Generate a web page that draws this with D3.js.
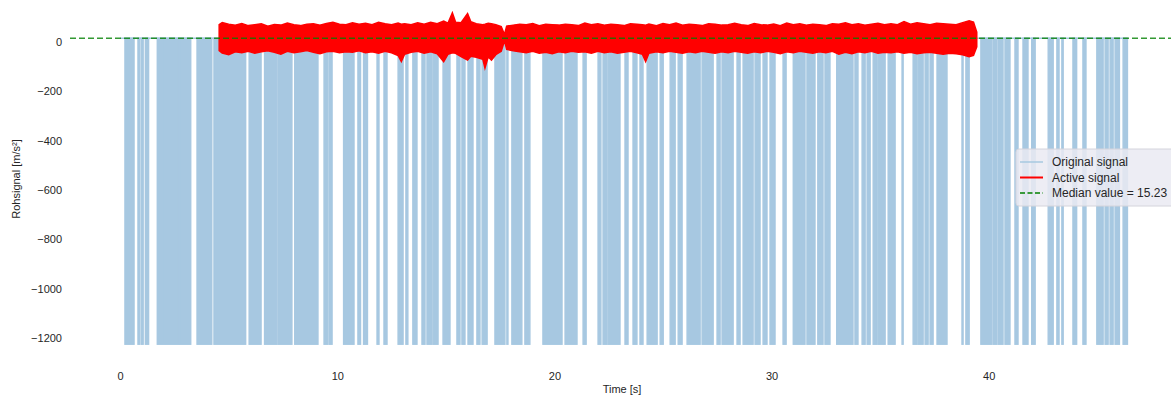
<!DOCTYPE html>
<html>
<head>
<meta charset="utf-8">
<script src="https://cdn.jsdelivr.net/npm/d3@7"></script>
<style>
  body { margin: 0; background: #fff; }
  svg { display: block; font-family: "Liberation Sans", Arial, sans-serif; }
</style>
</head>
<body>
<svg id="chart" width="1171" height="397"></svg>
<script>
// time axis limits and data
const xLimits = [-2.31, 48.58];
const yLimits = [-1297, 186];
const xTicks = [0, 10, 20, 30, 40];
const yTicks = [0, -200, -400, -600, -800, -1000, -1200];

const baseLevel = 15;        // resting level of the raw signal
const dropLevel = -1225;     // value of the dropouts
const signalEnd = 46.39;
const medianValue = 15.23;

// dropout intervals in the original signal [start, end] in seconds
const dropouts = [
    [0.22, 0.64], [0.82, 0.90], [0.97, 1.06], [1.16, 1.31],
    [1.71, 2.04], [2.09, 2.69], [2.73, 3.25], [3.54, 4.22], [4.32, 5.78],
    [5.94, 6.49], [6.65, 7.22], [7.27, 7.91], [8.04, 9.11], [9.39, 9.56], [9.62, 9.76],
    [10.29, 10.77], [10.95, 11.07], [11.21, 11.39], [11.83, 11.92], [12.15, 12.29],
    [12.80, 13.03], [13.16, 13.25], [13.48, 13.67], [13.90, 14.04], [14.13, 14.36],
    [14.41, 14.64], [14.87, 15.19], [15.51, 15.65], [15.74, 15.88], [16.02, 16.25],
    [16.43, 16.57], [16.67, 16.90], [17.26, 17.72], [17.81, 17.86], [18.04, 18.50],
    [18.64, 18.87], [19.47, 20.35], [20.49, 21.04], [21.32, 21.46], [22.01, 22.14],
    [22.24, 22.42], [22.47, 23.02], [23.25, 23.39], [23.62, 23.80], [23.94, 24.08],
    [24.27, 24.73], [24.87, 25.01], [25.33, 25.56], [25.70, 25.88], [26.11, 26.71],
    [26.80, 27.31], [27.49, 27.63], [27.72, 28.23], [28.41, 28.55], [28.69, 29.15],
    [29.24, 29.47], [29.61, 29.79], [29.93, 30.16], [30.53, 30.67], [31.00, 31.54],
    [31.63, 32.00], [32.13, 32.37], [32.46, 32.69], [33.00, 33.75], [33.84, 33.98],
    [34.17, 34.31], [34.40, 34.54], [34.68, 34.86], [34.91, 35.23], [35.37, 35.69],
    [36.01, 36.06], [36.52, 36.70], [36.75, 36.98], [37.07, 37.21], [37.30, 37.44],
    [37.62, 38.08], [38.77, 38.82], [38.95, 39.10],
    [39.64, 40.14], [40.20, 40.37], [40.43, 40.66], [40.75, 40.98], [41.21, 41.35],
    [41.58, 41.81], [41.98, 42.14], [42.74, 42.97], [43.14, 43.24], [43.37, 43.43],
    [43.88, 44.05], [44.34, 44.48], [44.98, 45.27], [45.36, 45.50], [45.59, 45.73],
    [45.82, 46.02], [46.19, 46.39]
];

// active signal envelope: [time, upper, lower]
const activeEnvelope = [
    [4.56, 70, -35], [4.70, 78, -45], [5.00, 72, -52], [5.30, 68, -40], [5.60, 74, -44],
    [5.90, 66, -38], [6.20, 70, -46], [6.50, 73, -40], [6.80, 64, -36], [7.10, 70, -42],
    [7.40, 68, -50], [7.70, 76, -38], [8.00, 70, -44], [8.30, 66, -40], [8.60, 72, -35],
    [8.90, 74, -42], [9.20, 68, -48], [9.50, 75, -40], [9.80, 80, -38], [10.10, 72, -44],
    [10.40, 70, -40], [10.70, 78, -42], [11.00, 72, -36], [11.30, 76, -44], [11.60, 70, -40],
    [11.90, 80, -46], [12.20, 74, -38], [12.50, 70, -44], [12.80, 76, -55], [12.95, 72, -80],
    [13.10, 74, -50], [13.40, 70, -42], [13.70, 78, -38], [14.00, 72, -46], [14.30, 80, -40],
    [14.60, 74, -48], [14.90, 84, -80], [15.10, 76, -50], [15.30, 118, -44], [15.45, 80, -46],
    [15.70, 78, -60], [16.00, 115, -74], [16.15, 82, -58], [16.40, 74, -62], [16.70, 70, -70],
    [16.80, 72, -106], [16.95, 76, -60], [17.10, 74, -74], [17.30, 70, -52], [17.55, 62, -38],
    [17.70, 30, 5], [17.80, 64, -30], [18.10, 68, -36], [18.40, 72, -40], [18.70, 70, -44],
    [19.00, 74, -38], [19.30, 66, -46], [19.60, 72, -42], [19.90, 70, -48], [20.20, 68, -40],
    [20.50, 72, -44], [20.80, 70, -38], [21.10, 66, -42], [21.40, 76, -40], [21.70, 70, -46],
    [22.00, 74, -38], [22.30, 68, -44], [22.60, 72, -40], [22.90, 70, -46], [23.20, 66, -42],
    [23.50, 74, -38], [23.80, 72, -44], [24.05, 70, -50], [24.20, 68, -80], [24.35, 72, -46],
    [24.70, 66, -40], [25.00, 74, -44], [25.30, 70, -38], [25.60, 76, -42], [25.90, 68, -46],
    [26.20, 72, -40], [26.50, 70, -44], [26.80, 66, -38], [27.10, 74, -42], [27.40, 72, -46],
    [27.70, 68, -40], [28.00, 70, -44], [28.30, 76, -38], [28.60, 70, -42], [28.90, 66, -46],
    [29.20, 74, -40], [29.50, 70, -44], [29.80, 68, -38], [30.10, 72, -42], [30.40, 66, -48],
    [30.70, 76, -40], [31.00, 70, -44], [31.30, 74, -38], [31.60, 68, -42], [31.90, 72, -46],
    [32.20, 70, -40], [32.50, 66, -44], [32.80, 74, -38], [33.10, 72, -50], [33.40, 78, -42],
    [33.70, 70, -48], [34.00, 74, -40], [34.30, 68, -44], [34.60, 72, -38], [34.90, 76, -46],
    [35.20, 70, -42], [35.50, 74, -44], [35.80, 70, -40], [36.10, 82, -46], [36.40, 72, -42],
    [36.70, 78, -48], [37.00, 74, -44], [37.30, 70, -42], [37.60, 76, -46], [37.90, 74, -50],
    [38.20, 72, -46], [38.50, 70, -48], [38.80, 78, -52], [39.10, 86, -60], [39.30, 80, -55],
    [39.45, 40, -20]
];

const legendItems = ['Original signal', 'Active signal', `Median value = ${medianValue}`];

const blue = '#a7c8e1';
const textColor = '#262626';

const svg = d3.select('#chart');

const x = d3.scaleLinear().domain(xLimits).range([70, 1175]);
const y = d3.scaleLinear().domain(yLimits).range([362, -4]);

// original signal: resting line plus dropouts
const orig = svg.append('g').attr('class', 'original');

orig.append('line')
    .attr('x1', x(0)).attr('x2', x(signalEnd))
    .attr('y1', y(baseLevel)).attr('y2', y(baseLevel))
    .attr('stroke', blue)
    .attr('stroke-width', 1.5);

orig.selectAll('rect')
    .data(dropouts)
    .enter()
    .append('rect')
        .attr('x', d => x(d[0]))
        .attr('width', d => Math.max(0.6, x(d[1]) - x(d[0])))
        .attr('y', y(baseLevel))
        .attr('height', y(dropLevel) - y(baseLevel))
        .attr('fill', blue)
        .attr('stroke', blue)
        .attr('stroke-width', 1.4);

// active signal
const area = d3.area()
    .x(d => x(d[0]))
    .y0(d => y(d[2]))
    .y1(d => y(d[1]));

svg.append('path')
    .datum(activeEnvelope)
    .attr('d', area)
    .attr('fill', '#ff0000')
    .attr('stroke', '#ff0000')
    .attr('stroke-width', 1.5)
    .attr('stroke-linejoin', 'miter');

// median line across the whole axes
svg.append('line')
    .attr('x1', x(xLimits[0])).attr('x2', x(xLimits[1]))
    .attr('y1', y(medianValue)).attr('y2', y(medianValue))
    .attr('stroke', '#008000')
    .attr('stroke-opacity', 0.8)
    .attr('stroke-width', 1.5)
    .attr('stroke-dasharray', '6,3');

// axes (no spines, no tick marks)
const xAxis = svg.append('g')
    .attr('transform', 'translate(0,362)')
    .call(d3.axisBottom(x).tickValues(xTicks).tickSize(0).tickPadding(10));
const yAxis = svg.append('g')
    .attr('transform', 'translate(70,0)')
    .call(d3.axisLeft(y).tickValues(yTicks).tickSize(0).tickPadding(8)
        .tickFormat(d => d < 0 ? '\u2212' + Math.abs(d) : d));

[xAxis, yAxis].forEach(a => {
    a.select('.domain').remove();
    a.selectAll('text')
        .attr('fill', textColor)
        .style('font-size', '11px')
        .style('font-family', '"Liberation Sans", Arial, sans-serif');
});

svg.append('text')
    .attr('x', 622)
    .attr('y', 393)
    .attr('text-anchor', 'middle')
    .attr('fill', textColor)
    .style('font-size', '11px')
    .text('Time [s]');

svg.append('text')
    .attr('transform', 'translate(20,179) rotate(-90)')
    .attr('text-anchor', 'middle')
    .attr('fill', textColor)
    .style('font-size', '11px')
    .text('Rohsignal [m/s²]');

// legend
const legend = svg.append('g').attr('transform', 'translate(1016,149)');
legend.append('rect')
    .attr('width', 160).attr('height', 57)
    .attr('rx', 3)
    .attr('fill', '#eaeaf2')
    .attr('fill-opacity', 0.85)
    .attr('stroke', '#d4d4dc');

const handleStyles = [
    { color: blue, width: 1.5, dash: null },
    { color: '#ff0000', width: 2, dash: null },
    { color: '#008000', width: 1.5, dash: '5,2.5' }
];

legendItems.forEach((label, i) => {
    const rowY = 13 + i * 15.5;
    const s = handleStyles[i];
    legend.append('line')
        .attr('x1', 4).attr('x2', 27)
        .attr('y1', rowY).attr('y2', rowY)
        .attr('stroke', s.color)
        .attr('stroke-width', s.width)
        .attr('stroke-dasharray', s.dash);
    legend.append('text')
        .attr('x', 36)
        .attr('y', rowY)
        .attr('dy', '0.35em')
        .attr('fill', textColor)
        .style('font-size', '12px')
        .text(label);
});
</script>
</body>
</html>
